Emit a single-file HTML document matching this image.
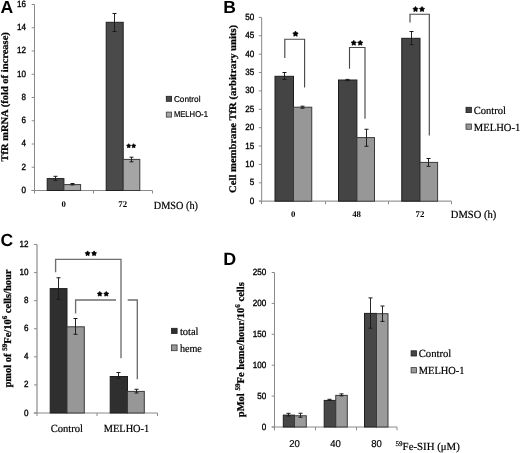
<!DOCTYPE html>
<html><head><meta charset="utf-8"><style>
html,body{margin:0;padding:0;background:#fff;}
svg{display:block;will-change:transform;filter:blur(0.3px);}
text{fill:#000;text-rendering:geometricPrecision;}
</style></head><body>
<svg width="520" height="453" viewBox="0 0 520 453">
<rect width="520" height="453" fill="#fff"/>
<text x="0.4" y="13.1" font-family="'Liberation Sans', sans-serif" font-size="17.6" font-weight="bold" text-anchor="start">A</text>
<line x1="34.5" y1="4.5" x2="34.5" y2="190.5" stroke="#8a8a8a" stroke-width="1"/>
<line x1="31.7" y1="190.5" x2="34.5" y2="190.5" stroke="#8a8a8a" stroke-width="1"/>
<text x="26.0" y="192.95" font-family="'Liberation Sans', sans-serif" font-size="9" font-weight="normal" text-anchor="end" textLength="4.5" lengthAdjust="spacingAndGlyphs" stroke="#000" stroke-width="0.35">0</text>
<line x1="31.7" y1="167.25" x2="34.5" y2="167.25" stroke="#8a8a8a" stroke-width="1"/>
<text x="26.0" y="169.7" font-family="'Liberation Sans', sans-serif" font-size="9" font-weight="normal" text-anchor="end" textLength="4.5" lengthAdjust="spacingAndGlyphs" stroke="#000" stroke-width="0.35">2</text>
<line x1="31.7" y1="144.0" x2="34.5" y2="144.0" stroke="#8a8a8a" stroke-width="1"/>
<text x="26.0" y="146.45" font-family="'Liberation Sans', sans-serif" font-size="9" font-weight="normal" text-anchor="end" textLength="4.5" lengthAdjust="spacingAndGlyphs" stroke="#000" stroke-width="0.35">4</text>
<line x1="31.7" y1="120.75" x2="34.5" y2="120.75" stroke="#8a8a8a" stroke-width="1"/>
<text x="26.0" y="123.2" font-family="'Liberation Sans', sans-serif" font-size="9" font-weight="normal" text-anchor="end" textLength="4.5" lengthAdjust="spacingAndGlyphs" stroke="#000" stroke-width="0.35">6</text>
<line x1="31.7" y1="97.5" x2="34.5" y2="97.5" stroke="#8a8a8a" stroke-width="1"/>
<text x="26.0" y="99.95" font-family="'Liberation Sans', sans-serif" font-size="9" font-weight="normal" text-anchor="end" textLength="4.5" lengthAdjust="spacingAndGlyphs" stroke="#000" stroke-width="0.35">8</text>
<line x1="31.7" y1="74.25" x2="34.5" y2="74.25" stroke="#8a8a8a" stroke-width="1"/>
<text x="26.0" y="76.7" font-family="'Liberation Sans', sans-serif" font-size="9" font-weight="normal" text-anchor="end" textLength="9.0" lengthAdjust="spacingAndGlyphs" stroke="#000" stroke-width="0.35">10</text>
<line x1="31.7" y1="51.0" x2="34.5" y2="51.0" stroke="#8a8a8a" stroke-width="1"/>
<text x="26.0" y="53.45" font-family="'Liberation Sans', sans-serif" font-size="9" font-weight="normal" text-anchor="end" textLength="9.0" lengthAdjust="spacingAndGlyphs" stroke="#000" stroke-width="0.35">12</text>
<line x1="31.7" y1="27.75" x2="34.5" y2="27.75" stroke="#8a8a8a" stroke-width="1"/>
<text x="26.0" y="30.2" font-family="'Liberation Sans', sans-serif" font-size="9" font-weight="normal" text-anchor="end" textLength="9.0" lengthAdjust="spacingAndGlyphs" stroke="#000" stroke-width="0.35">14</text>
<line x1="31.7" y1="4.5" x2="34.5" y2="4.5" stroke="#8a8a8a" stroke-width="1"/>
<text x="26.0" y="6.95" font-family="'Liberation Sans', sans-serif" font-size="9" font-weight="normal" text-anchor="end" textLength="9.0" lengthAdjust="spacingAndGlyphs" stroke="#000" stroke-width="0.35">16</text>
<line x1="31.5" y1="190.5" x2="152.5" y2="190.5" stroke="#8a8a8a" stroke-width="1"/>
<line x1="34.5" y1="190.5" x2="34.5" y2="193.5" stroke="#8a8a8a" stroke-width="1"/>
<line x1="93.5" y1="190.5" x2="93.5" y2="193.5" stroke="#8a8a8a" stroke-width="1"/>
<line x1="152.5" y1="190.5" x2="152.5" y2="193.5" stroke="#8a8a8a" stroke-width="1"/>
<rect x="47.2" y="178.6" width="16.699999999999996" height="11.900000000000006" fill="#4a4a4a" stroke="#1e1e1e" stroke-width="1"/>
<rect x="63.9" y="184.6" width="16.699999999999996" height="5.900000000000006" fill="#a5a5a5" stroke="#3a3a3a" stroke-width="1"/>
<rect x="106.2" y="22.3" width="17.0" height="168.2" fill="#4a4a4a" stroke="#1e1e1e" stroke-width="1"/>
<rect x="123.2" y="159.4" width="16.60000000000001" height="31.099999999999994" fill="#a5a5a5" stroke="#3a3a3a" stroke-width="1"/>
<line x1="55.5" y1="176.3" x2="55.5" y2="180.4" stroke="#1a1a1a" stroke-width="0.95"/>
<line x1="53.5" y1="176.3" x2="57.5" y2="176.3" stroke="#1a1a1a" stroke-width="1"/>
<line x1="53.5" y1="180.4" x2="57.5" y2="180.4" stroke="#1a1a1a" stroke-width="1"/>
<line x1="72.5" y1="183.5" x2="72.5" y2="184.9" stroke="#1a1a1a" stroke-width="0.95"/>
<line x1="70.5" y1="183.5" x2="74.5" y2="183.5" stroke="#1a1a1a" stroke-width="1"/>
<line x1="70.5" y1="184.9" x2="74.5" y2="184.9" stroke="#1a1a1a" stroke-width="1"/>
<line x1="114.5" y1="13.5" x2="114.5" y2="31.5" stroke="#1a1a1a" stroke-width="0.95"/>
<line x1="112.5" y1="13.5" x2="116.5" y2="13.5" stroke="#1a1a1a" stroke-width="1"/>
<line x1="112.5" y1="31.5" x2="116.5" y2="31.5" stroke="#1a1a1a" stroke-width="1"/>
<line x1="131.5" y1="157.2" x2="131.5" y2="161.8" stroke="#1a1a1a" stroke-width="0.95"/>
<line x1="129.5" y1="157.2" x2="133.5" y2="157.2" stroke="#1a1a1a" stroke-width="1"/>
<line x1="129.5" y1="161.8" x2="133.5" y2="161.8" stroke="#1a1a1a" stroke-width="1"/>
<polygon points="128.70,143.70 129.43,144.89 130.79,145.22 129.88,146.28 129.99,147.68 128.70,147.15 127.41,147.68 127.52,146.28 126.61,145.22 127.97,144.89" fill="#000" stroke="#000" stroke-width="0.7" stroke-linejoin="round"/>
<polygon points="133.70,143.70 134.43,144.89 135.79,145.22 134.88,146.28 134.99,147.68 133.70,147.15 132.41,147.68 132.52,146.28 131.61,145.22 132.97,144.89" fill="#000" stroke="#000" stroke-width="0.7" stroke-linejoin="round"/>
<rect x="166.3" y="96.3" width="5.299999999999983" height="5.0" fill="#4a4a4a" stroke="#1e1e1e" stroke-width="0.8"/>
<rect x="166.3" y="112.1" width="5.299999999999983" height="5.0" fill="#a5a5a5" stroke="#3a3a3a" stroke-width="0.8"/>
<text x="173.9" y="101.5" font-family="'Liberation Sans', sans-serif" font-size="8.5" font-weight="normal" text-anchor="start" textLength="26.6" lengthAdjust="spacingAndGlyphs" stroke="#000" stroke-width="0.2">Control</text>
<text x="173.9" y="117.2" font-family="'Liberation Sans', sans-serif" font-size="8.5" font-weight="normal" text-anchor="start" textLength="34" lengthAdjust="spacingAndGlyphs" stroke="#000" stroke-width="0.2">MELHO-1</text>
<text x="0" y="0" transform="translate(8.0,96.9) rotate(-90)" font-family="'Liberation Serif', serif" font-size="10" font-weight="bold" text-anchor="middle" textLength="129.4" lengthAdjust="spacingAndGlyphs" stroke="#000" stroke-width="0.25">TfR mRNA (fold of increase)</text>
<text x="63.75" y="206.9" font-family="'Liberation Serif', serif" font-size="8.8" font-weight="bold" text-anchor="middle">0</text>
<text x="122.75" y="206.9" font-family="'Liberation Serif', serif" font-size="8.8" font-weight="bold" text-anchor="middle">72</text>
<text x="153.8" y="208.65" font-family="'Liberation Serif', serif" font-size="10.9" font-weight="normal" text-anchor="start" textLength="44.2" lengthAdjust="spacingAndGlyphs" stroke="#000" stroke-width="0.2">DMSO (h)</text>
<text x="223.2" y="13.1" font-family="'Liberation Sans', sans-serif" font-size="17.5" font-weight="bold" text-anchor="start">B</text>
<line x1="261.6" y1="17.4" x2="261.6" y2="201.2" stroke="#9a9a9a" stroke-width="1.2"/>
<line x1="258.8" y1="201.2" x2="261.6" y2="201.2" stroke="#8a8a8a" stroke-width="1"/>
<text x="254.3" y="203.64999999999998" font-family="'Liberation Sans', sans-serif" font-size="9" font-weight="normal" text-anchor="end" textLength="4.5" lengthAdjust="spacingAndGlyphs" stroke="#000" stroke-width="0.35">0</text>
<line x1="258.8" y1="182.82" x2="261.6" y2="182.82" stroke="#8a8a8a" stroke-width="1"/>
<text x="254.3" y="185.26999999999998" font-family="'Liberation Sans', sans-serif" font-size="9" font-weight="normal" text-anchor="end" textLength="4.5" lengthAdjust="spacingAndGlyphs" stroke="#000" stroke-width="0.35">5</text>
<line x1="258.8" y1="164.44" x2="261.6" y2="164.44" stroke="#8a8a8a" stroke-width="1"/>
<text x="254.3" y="166.89" font-family="'Liberation Sans', sans-serif" font-size="9" font-weight="normal" text-anchor="end" textLength="9.0" lengthAdjust="spacingAndGlyphs" stroke="#000" stroke-width="0.35">10</text>
<line x1="258.8" y1="146.06" x2="261.6" y2="146.06" stroke="#8a8a8a" stroke-width="1"/>
<text x="254.3" y="148.51" font-family="'Liberation Sans', sans-serif" font-size="9" font-weight="normal" text-anchor="end" textLength="9.0" lengthAdjust="spacingAndGlyphs" stroke="#000" stroke-width="0.35">15</text>
<line x1="258.8" y1="127.67999999999999" x2="261.6" y2="127.67999999999999" stroke="#8a8a8a" stroke-width="1"/>
<text x="254.3" y="130.13" font-family="'Liberation Sans', sans-serif" font-size="9" font-weight="normal" text-anchor="end" textLength="9.0" lengthAdjust="spacingAndGlyphs" stroke="#000" stroke-width="0.35">20</text>
<line x1="258.8" y1="109.3" x2="261.6" y2="109.3" stroke="#8a8a8a" stroke-width="1"/>
<text x="254.3" y="111.75" font-family="'Liberation Sans', sans-serif" font-size="9" font-weight="normal" text-anchor="end" textLength="9.0" lengthAdjust="spacingAndGlyphs" stroke="#000" stroke-width="0.35">25</text>
<line x1="258.8" y1="90.92" x2="261.6" y2="90.92" stroke="#8a8a8a" stroke-width="1"/>
<text x="254.3" y="93.37" font-family="'Liberation Sans', sans-serif" font-size="9" font-weight="normal" text-anchor="end" textLength="9.0" lengthAdjust="spacingAndGlyphs" stroke="#000" stroke-width="0.35">30</text>
<line x1="258.8" y1="72.53999999999999" x2="261.6" y2="72.53999999999999" stroke="#8a8a8a" stroke-width="1"/>
<text x="254.3" y="74.99" font-family="'Liberation Sans', sans-serif" font-size="9" font-weight="normal" text-anchor="end" textLength="9.0" lengthAdjust="spacingAndGlyphs" stroke="#000" stroke-width="0.35">35</text>
<line x1="258.8" y1="54.16" x2="261.6" y2="54.16" stroke="#8a8a8a" stroke-width="1"/>
<text x="254.3" y="56.61" font-family="'Liberation Sans', sans-serif" font-size="9" font-weight="normal" text-anchor="end" textLength="9.0" lengthAdjust="spacingAndGlyphs" stroke="#000" stroke-width="0.35">40</text>
<line x1="258.8" y1="35.78" x2="261.6" y2="35.78" stroke="#8a8a8a" stroke-width="1"/>
<text x="254.3" y="38.230000000000004" font-family="'Liberation Sans', sans-serif" font-size="9" font-weight="normal" text-anchor="end" textLength="9.0" lengthAdjust="spacingAndGlyphs" stroke="#000" stroke-width="0.35">45</text>
<line x1="258.8" y1="17.400000000000006" x2="261.6" y2="17.400000000000006" stroke="#8a8a8a" stroke-width="1"/>
<text x="254.3" y="19.850000000000005" font-family="'Liberation Sans', sans-serif" font-size="9" font-weight="normal" text-anchor="end" textLength="9.0" lengthAdjust="spacingAndGlyphs" stroke="#000" stroke-width="0.35">50</text>
<line x1="259.0" y1="201.2" x2="451.5" y2="201.2" stroke="#9a9a9a" stroke-width="1.2"/>
<line x1="261.5" y1="201.2" x2="261.5" y2="204.2" stroke="#8a8a8a" stroke-width="1"/>
<line x1="325.5" y1="201.2" x2="325.5" y2="204.2" stroke="#8a8a8a" stroke-width="1"/>
<line x1="388.5" y1="201.2" x2="388.5" y2="204.2" stroke="#8a8a8a" stroke-width="1"/>
<line x1="451.5" y1="201.2" x2="451.5" y2="204.2" stroke="#8a8a8a" stroke-width="1"/>
<rect x="275" y="76.3" width="18.5" height="124.89999999999999" fill="#444444" stroke="#1e1e1e" stroke-width="1"/>
<rect x="293.5" y="107.2" width="18.25" height="93.99999999999999" fill="#979797" stroke="#3a3a3a" stroke-width="1"/>
<rect x="338.5" y="80" width="18.399999999999977" height="121.19999999999999" fill="#444444" stroke="#1e1e1e" stroke-width="1"/>
<rect x="356.9" y="137.6" width="17.600000000000023" height="63.599999999999994" fill="#979797" stroke="#3a3a3a" stroke-width="1"/>
<rect x="401.75" y="38.3" width="18.25" height="162.89999999999998" fill="#444444" stroke="#1e1e1e" stroke-width="1"/>
<rect x="420" y="162.4" width="17.600000000000023" height="38.79999999999998" fill="#979797" stroke="#3a3a3a" stroke-width="1"/>
<line x1="284.5" y1="72.5" x2="284.5" y2="79.5" stroke="#1a1a1a" stroke-width="0.95"/>
<line x1="282.5" y1="72.5" x2="286.5" y2="72.5" stroke="#1a1a1a" stroke-width="1"/>
<line x1="282.5" y1="79.5" x2="286.5" y2="79.5" stroke="#1a1a1a" stroke-width="1"/>
<line x1="302.5" y1="106.2" x2="302.5" y2="108.2" stroke="#1a1a1a" stroke-width="0.95"/>
<line x1="300.5" y1="106.2" x2="304.5" y2="106.2" stroke="#1a1a1a" stroke-width="1"/>
<line x1="300.5" y1="108.2" x2="304.5" y2="108.2" stroke="#1a1a1a" stroke-width="1"/>
<line x1="347.5" y1="79.4" x2="347.5" y2="80.6" stroke="#1a1a1a" stroke-width="0.95"/>
<line x1="345.5" y1="79.4" x2="349.5" y2="79.4" stroke="#1a1a1a" stroke-width="1"/>
<line x1="345.5" y1="80.6" x2="349.5" y2="80.6" stroke="#1a1a1a" stroke-width="1"/>
<line x1="366.5" y1="129.25" x2="366.5" y2="146.25" stroke="#1a1a1a" stroke-width="0.95"/>
<line x1="364.5" y1="129.25" x2="368.5" y2="129.25" stroke="#1a1a1a" stroke-width="1"/>
<line x1="364.5" y1="146.25" x2="368.5" y2="146.25" stroke="#1a1a1a" stroke-width="1"/>
<line x1="411.5" y1="31.5" x2="411.5" y2="44.7" stroke="#1a1a1a" stroke-width="0.95"/>
<line x1="409.5" y1="31.5" x2="413.5" y2="31.5" stroke="#1a1a1a" stroke-width="1"/>
<line x1="409.5" y1="44.7" x2="413.5" y2="44.7" stroke="#1a1a1a" stroke-width="1"/>
<line x1="428.5" y1="158.5" x2="428.5" y2="166.3" stroke="#1a1a1a" stroke-width="0.95"/>
<line x1="426.5" y1="158.5" x2="430.5" y2="158.5" stroke="#1a1a1a" stroke-width="1"/>
<line x1="426.5" y1="166.3" x2="430.5" y2="166.3" stroke="#1a1a1a" stroke-width="1"/>
<polyline points="284.8,58 284.8,39.2 304.6,39.2 304.6,87.5" fill="none" stroke="#4a4a4a" stroke-width="1.15"/>
<polyline points="349.5,68.75 349.5,47.5 365,47.5 365,118.75" fill="none" stroke="#4a4a4a" stroke-width="1.15"/>
<polyline points="410,22.5 410,14.25 429.3,14.25 429.3,135.4" fill="none" stroke="#4a4a4a" stroke-width="1.15"/>
<polygon points="295.50,31.05 296.43,32.61 298.21,33.02 297.01,34.39 297.18,36.21 295.50,35.49 293.82,36.21 293.99,34.39 292.79,33.02 294.57,32.61" fill="#000" stroke="#000" stroke-width="0.7" stroke-linejoin="round"/>
<polygon points="353.75,40.25 354.65,41.76 356.37,42.15 355.21,43.47 355.37,45.22 353.75,44.54 352.13,45.22 352.29,43.47 351.13,42.15 352.85,41.76" fill="#000" stroke="#000" stroke-width="0.7" stroke-linejoin="round"/>
<polygon points="360.25,40.25 361.15,41.76 362.87,42.15 361.71,43.47 361.87,45.22 360.25,44.54 358.63,45.22 358.79,43.47 357.63,42.15 359.35,41.76" fill="#000" stroke="#000" stroke-width="0.7" stroke-linejoin="round"/>
<polygon points="415.50,6.50 416.40,8.01 418.12,8.40 416.96,9.72 417.12,11.47 415.50,10.79 413.88,11.47 414.04,9.72 412.88,8.40 414.60,8.01" fill="#000" stroke="#000" stroke-width="0.7" stroke-linejoin="round"/>
<polygon points="422.00,6.50 422.90,8.01 424.62,8.40 423.46,9.72 423.62,11.47 422.00,10.79 420.38,11.47 420.54,9.72 419.38,8.40 421.10,8.01" fill="#000" stroke="#000" stroke-width="0.7" stroke-linejoin="round"/>
<rect x="466" y="107.3" width="5.399999999999977" height="5.299999999999997" fill="#444444" stroke="#1e1e1e" stroke-width="0.8"/>
<rect x="466" y="124" width="5.399999999999977" height="5.300000000000011" fill="#979797" stroke="#3a3a3a" stroke-width="0.8"/>
<text x="473.8" y="113.8" font-family="'Liberation Serif', serif" font-size="10.9" font-weight="normal" text-anchor="start" textLength="32.2" lengthAdjust="spacingAndGlyphs" stroke="#000" stroke-width="0.2">Control</text>
<text x="473.8" y="130.9" font-family="'Liberation Serif', serif" font-size="10.9" font-weight="normal" text-anchor="start" textLength="46.5" lengthAdjust="spacingAndGlyphs" stroke="#000" stroke-width="0.2">MELHO-1</text>
<text x="0" y="0" transform="translate(235.6,108.9) rotate(-90)" font-family="'Liberation Serif', serif" font-size="10" font-weight="bold" text-anchor="middle" textLength="168" lengthAdjust="spacingAndGlyphs" stroke="#000" stroke-width="0.25">Cell membrane TfR (arbitrary units)</text>
<text x="293.1" y="216.8" font-family="'Liberation Serif', serif" font-size="8.8" font-weight="bold" text-anchor="middle">0</text>
<text x="356.6" y="216.8" font-family="'Liberation Serif', serif" font-size="8.8" font-weight="bold" text-anchor="middle">48</text>
<text x="420" y="216.8" font-family="'Liberation Serif', serif" font-size="8.8" font-weight="bold" text-anchor="middle">72</text>
<text x="450.75" y="217.5" font-family="'Liberation Serif', serif" font-size="10.9" font-weight="normal" text-anchor="start" textLength="45.5" lengthAdjust="spacingAndGlyphs" stroke="#000" stroke-width="0.2">DMSO (h)</text>
<text x="0.4" y="246.2" font-family="'Liberation Sans', sans-serif" font-size="17.5" font-weight="bold" text-anchor="start">C</text>
<line x1="37" y1="244.5" x2="37" y2="413" stroke="#8a8a8a" stroke-width="1.2"/>
<line x1="34" y1="413.0" x2="37" y2="413.0" stroke="#8a8a8a" stroke-width="1"/>
<text x="28.6" y="415.55" font-family="'Liberation Sans', sans-serif" font-size="9" font-weight="normal" text-anchor="end" textLength="4.5" lengthAdjust="spacingAndGlyphs" stroke="#000" stroke-width="0.35">0</text>
<line x1="34" y1="384.9166666666667" x2="37" y2="384.9166666666667" stroke="#8a8a8a" stroke-width="1"/>
<text x="28.6" y="387.4666666666667" font-family="'Liberation Sans', sans-serif" font-size="9" font-weight="normal" text-anchor="end" textLength="4.5" lengthAdjust="spacingAndGlyphs" stroke="#000" stroke-width="0.35">2</text>
<line x1="34" y1="356.8333333333333" x2="37" y2="356.8333333333333" stroke="#8a8a8a" stroke-width="1"/>
<text x="28.6" y="359.3833333333333" font-family="'Liberation Sans', sans-serif" font-size="9" font-weight="normal" text-anchor="end" textLength="4.5" lengthAdjust="spacingAndGlyphs" stroke="#000" stroke-width="0.35">4</text>
<line x1="34" y1="328.75" x2="37" y2="328.75" stroke="#8a8a8a" stroke-width="1"/>
<text x="28.6" y="331.3" font-family="'Liberation Sans', sans-serif" font-size="9" font-weight="normal" text-anchor="end" textLength="4.5" lengthAdjust="spacingAndGlyphs" stroke="#000" stroke-width="0.35">6</text>
<line x1="34" y1="300.6666666666667" x2="37" y2="300.6666666666667" stroke="#8a8a8a" stroke-width="1"/>
<text x="28.6" y="303.2166666666667" font-family="'Liberation Sans', sans-serif" font-size="9" font-weight="normal" text-anchor="end" textLength="4.5" lengthAdjust="spacingAndGlyphs" stroke="#000" stroke-width="0.35">8</text>
<line x1="34" y1="272.58333333333337" x2="37" y2="272.58333333333337" stroke="#8a8a8a" stroke-width="1"/>
<text x="28.6" y="275.1333333333334" font-family="'Liberation Sans', sans-serif" font-size="9" font-weight="normal" text-anchor="end" textLength="9.0" lengthAdjust="spacingAndGlyphs" stroke="#000" stroke-width="0.35">10</text>
<line x1="34" y1="244.5" x2="37" y2="244.5" stroke="#8a8a8a" stroke-width="1"/>
<text x="28.6" y="247.05" font-family="'Liberation Sans', sans-serif" font-size="9" font-weight="normal" text-anchor="end" textLength="9.0" lengthAdjust="spacingAndGlyphs" stroke="#000" stroke-width="0.35">12</text>
<line x1="33.8" y1="413" x2="157.5" y2="413" stroke="#8a8a8a" stroke-width="1.2"/>
<line x1="37" y1="413" x2="37" y2="416" stroke="#8a8a8a" stroke-width="1"/>
<line x1="97" y1="413" x2="97" y2="416" stroke="#8a8a8a" stroke-width="1"/>
<line x1="157.5" y1="413" x2="157.5" y2="416" stroke="#8a8a8a" stroke-width="1"/>
<rect x="50.2" y="288.6" width="16.799999999999997" height="124.39999999999998" fill="#2f2f2f" stroke="#1e1e1e" stroke-width="1"/>
<rect x="67" y="326.8" width="17.299999999999997" height="86.19999999999999" fill="#979797" stroke="#3a3a3a" stroke-width="1"/>
<rect x="110.2" y="376.5" width="17.299999999999997" height="36.5" fill="#2f2f2f" stroke="#1e1e1e" stroke-width="1"/>
<rect x="127.5" y="391.4" width="16.80000000000001" height="21.600000000000023" fill="#979797" stroke="#3a3a3a" stroke-width="1"/>
<line x1="58.5" y1="277.75" x2="58.5" y2="299.25" stroke="#1a1a1a" stroke-width="0.95"/>
<line x1="56.5" y1="277.75" x2="60.5" y2="277.75" stroke="#1a1a1a" stroke-width="1"/>
<line x1="56.5" y1="299.25" x2="60.5" y2="299.25" stroke="#1a1a1a" stroke-width="1"/>
<line x1="75.5" y1="318.5" x2="75.5" y2="334.25" stroke="#1a1a1a" stroke-width="0.95"/>
<line x1="73.5" y1="318.5" x2="77.5" y2="318.5" stroke="#1a1a1a" stroke-width="1"/>
<line x1="73.5" y1="334.25" x2="77.5" y2="334.25" stroke="#1a1a1a" stroke-width="1"/>
<line x1="118.5" y1="372.5" x2="118.5" y2="378.25" stroke="#1a1a1a" stroke-width="0.95"/>
<line x1="116.5" y1="372.5" x2="120.5" y2="372.5" stroke="#1a1a1a" stroke-width="1"/>
<line x1="116.5" y1="378.25" x2="120.5" y2="378.25" stroke="#1a1a1a" stroke-width="1"/>
<line x1="136.5" y1="389.25" x2="136.5" y2="393" stroke="#1a1a1a" stroke-width="0.95"/>
<line x1="134.5" y1="389.25" x2="138.5" y2="389.25" stroke="#1a1a1a" stroke-width="1"/>
<line x1="134.5" y1="393" x2="138.5" y2="393" stroke="#1a1a1a" stroke-width="1"/>
<polyline points="55.6,272.25 55.6,259.4 121.0,259.4 121.0,358.25" fill="none" stroke="#6e6e6e" stroke-width="1.35"/>
<polyline points="75.6,313.5 75.6,300.0 116,300.0" fill="none" stroke="#6e6e6e" stroke-width="1.35"/>
<polyline points="127.7,300.0 137.3,300.0 137.3,379.25" fill="none" stroke="#6e6e6e" stroke-width="1.35"/>
<polygon points="87.60,250.90 88.46,252.32 90.07,252.70 88.99,253.95 89.13,255.60 87.60,254.96 86.07,255.60 86.21,253.95 85.13,252.70 86.74,252.32" fill="#000" stroke="#000" stroke-width="0.7" stroke-linejoin="round"/>
<polygon points="94.10,250.90 94.96,252.32 96.57,252.70 95.49,253.95 95.63,255.60 94.10,254.96 92.57,255.60 92.71,253.95 91.63,252.70 93.24,252.32" fill="#000" stroke="#000" stroke-width="0.7" stroke-linejoin="round"/>
<polygon points="99.75,291.40 100.61,292.82 102.22,293.20 101.14,294.45 101.28,296.10 99.75,295.46 98.22,296.10 98.36,294.45 97.28,293.20 98.89,292.82" fill="#000" stroke="#000" stroke-width="0.7" stroke-linejoin="round"/>
<polygon points="106.25,291.40 107.11,292.82 108.72,293.20 107.64,294.45 107.78,296.10 106.25,295.46 104.72,296.10 104.86,294.45 103.78,293.20 105.39,292.82" fill="#000" stroke="#000" stroke-width="0.7" stroke-linejoin="round"/>
<rect x="171.4" y="328.3" width="5.699999999999989" height="5.199999999999989" fill="#2f2f2f" stroke="#1e1e1e" stroke-width="0.8"/>
<rect x="171.4" y="344.9" width="5.699999999999989" height="5.800000000000011" fill="#979797" stroke="#3a3a3a" stroke-width="0.8"/>
<text x="179.9" y="334.6" font-family="'Liberation Serif', serif" font-size="10.9" font-weight="normal" text-anchor="start" textLength="18.6" lengthAdjust="spacingAndGlyphs" stroke="#000" stroke-width="0.2">total</text>
<text x="179.9" y="351.5" font-family="'Liberation Serif', serif" font-size="10.9" font-weight="normal" text-anchor="start" textLength="22" lengthAdjust="spacingAndGlyphs" stroke="#000" stroke-width="0.2">heme</text>
<text x="0" y="0" transform="translate(11.0,328.5) rotate(-90)" font-family="'Liberation Serif', serif" font-size="10.4" font-weight="bold" text-anchor="middle" textLength="118" lengthAdjust="spacingAndGlyphs" stroke="#000" stroke-width="0.25">pmol of <tspan font-size="7" dy="-4.3">59</tspan><tspan dy="4.3">Fe/10</tspan><tspan font-size="7" dy="-4.3">6</tspan><tspan dy="4.3"> cells/hour</tspan></text>
<text x="66.9" y="431.8" font-family="'Liberation Serif', serif" font-size="10.9" font-weight="normal" text-anchor="middle" textLength="32.3" lengthAdjust="spacingAndGlyphs" stroke="#000" stroke-width="0.2">Control</text>
<text x="126.5" y="432.3" font-family="'Liberation Serif', serif" font-size="10.9" font-weight="normal" text-anchor="middle" textLength="45.5" lengthAdjust="spacingAndGlyphs" stroke="#000" stroke-width="0.2">MELHO-1</text>
<text x="223.3" y="265.1" font-family="'Liberation Sans', sans-serif" font-size="17.9" font-weight="bold" text-anchor="start">D</text>
<line x1="274.5" y1="272.5" x2="274.5" y2="427" stroke="#8a8a8a" stroke-width="1"/>
<line x1="271.7" y1="427.0" x2="274.5" y2="427.0" stroke="#8a8a8a" stroke-width="1"/>
<text x="266.3" y="429.55" font-family="'Liberation Sans', sans-serif" font-size="9" font-weight="normal" text-anchor="end" textLength="4.5" lengthAdjust="spacingAndGlyphs" stroke="#000" stroke-width="0.35">0</text>
<line x1="271.7" y1="396.1" x2="274.5" y2="396.1" stroke="#8a8a8a" stroke-width="1"/>
<text x="266.3" y="398.65000000000003" font-family="'Liberation Sans', sans-serif" font-size="9" font-weight="normal" text-anchor="end" textLength="9.0" lengthAdjust="spacingAndGlyphs" stroke="#000" stroke-width="0.35">50</text>
<line x1="271.7" y1="365.2" x2="274.5" y2="365.2" stroke="#8a8a8a" stroke-width="1"/>
<text x="266.3" y="367.75" font-family="'Liberation Sans', sans-serif" font-size="9" font-weight="normal" text-anchor="end" textLength="13.5" lengthAdjust="spacingAndGlyphs" stroke="#000" stroke-width="0.35">100</text>
<line x1="271.7" y1="334.3" x2="274.5" y2="334.3" stroke="#8a8a8a" stroke-width="1"/>
<text x="266.3" y="336.85" font-family="'Liberation Sans', sans-serif" font-size="9" font-weight="normal" text-anchor="end" textLength="13.5" lengthAdjust="spacingAndGlyphs" stroke="#000" stroke-width="0.35">150</text>
<line x1="271.7" y1="303.4" x2="274.5" y2="303.4" stroke="#8a8a8a" stroke-width="1"/>
<text x="266.3" y="305.95" font-family="'Liberation Sans', sans-serif" font-size="9" font-weight="normal" text-anchor="end" textLength="13.5" lengthAdjust="spacingAndGlyphs" stroke="#000" stroke-width="0.35">200</text>
<line x1="271.7" y1="272.5" x2="274.5" y2="272.5" stroke="#8a8a8a" stroke-width="1"/>
<text x="266.3" y="275.05" font-family="'Liberation Sans', sans-serif" font-size="9" font-weight="normal" text-anchor="end" textLength="13.5" lengthAdjust="spacingAndGlyphs" stroke="#000" stroke-width="0.35">250</text>
<line x1="271.7" y1="427" x2="397" y2="427" stroke="#8a8a8a" stroke-width="1"/>
<line x1="274.5" y1="427" x2="274.5" y2="430.3" stroke="#8a8a8a" stroke-width="1"/>
<line x1="315.5" y1="427" x2="315.5" y2="430.3" stroke="#8a8a8a" stroke-width="1"/>
<line x1="356.5" y1="427" x2="356.5" y2="430.3" stroke="#8a8a8a" stroke-width="1"/>
<line x1="397" y1="427" x2="397" y2="430.3" stroke="#8a8a8a" stroke-width="1"/>
<rect x="283.3" y="415.14" width="11.199999999999989" height="11.860000000000014" fill="#474747" stroke="#1e1e1e" stroke-width="1"/>
<rect x="294.5" y="415.758" width="11.800000000000011" height="11.242000000000019" fill="#9a9a9a" stroke="#3a3a3a" stroke-width="1"/>
<rect x="324.2" y="400.408" width="11.550000000000011" height="26.591999999999985" fill="#474747" stroke="#1e1e1e" stroke-width="1"/>
<rect x="335.75" y="395.364" width="11.550000000000011" height="31.636000000000024" fill="#9a9a9a" stroke="#3a3a3a" stroke-width="1"/>
<rect x="364.5" y="313.4" width="12.0" height="113.60000000000002" fill="#474747" stroke="#1e1e1e" stroke-width="1"/>
<rect x="376.5" y="313.7" width="11.5" height="113.30000000000001" fill="#9a9a9a" stroke="#3a3a3a" stroke-width="1"/>
<line x1="288.5" y1="413.34" x2="288.5" y2="415.94" stroke="#1a1a1a" stroke-width="0.95"/>
<line x1="286.5" y1="413.34" x2="290.5" y2="413.34" stroke="#1a1a1a" stroke-width="1"/>
<line x1="286.5" y1="415.94" x2="290.5" y2="415.94" stroke="#1a1a1a" stroke-width="1"/>
<line x1="300.5" y1="413.258" x2="300.5" y2="417.258" stroke="#1a1a1a" stroke-width="0.95"/>
<line x1="298.5" y1="413.258" x2="302.5" y2="413.258" stroke="#1a1a1a" stroke-width="1"/>
<line x1="298.5" y1="417.258" x2="302.5" y2="417.258" stroke="#1a1a1a" stroke-width="1"/>
<line x1="329.5" y1="399.308" x2="329.5" y2="400.308" stroke="#1a1a1a" stroke-width="0.95"/>
<line x1="327.5" y1="399.308" x2="331.5" y2="399.308" stroke="#1a1a1a" stroke-width="1"/>
<line x1="327.5" y1="400.308" x2="331.5" y2="400.308" stroke="#1a1a1a" stroke-width="1"/>
<line x1="341.5" y1="393.864" x2="341.5" y2="395.864" stroke="#1a1a1a" stroke-width="0.95"/>
<line x1="339.5" y1="393.864" x2="343.5" y2="393.864" stroke="#1a1a1a" stroke-width="1"/>
<line x1="339.5" y1="395.864" x2="343.5" y2="395.864" stroke="#1a1a1a" stroke-width="1"/>
<line x1="370.5" y1="297.9" x2="370.5" y2="328.2" stroke="#1a1a1a" stroke-width="0.95"/>
<line x1="368.5" y1="297.9" x2="372.5" y2="297.9" stroke="#1a1a1a" stroke-width="1"/>
<line x1="368.5" y1="328.2" x2="372.5" y2="328.2" stroke="#1a1a1a" stroke-width="1"/>
<line x1="382.5" y1="306" x2="382.5" y2="321.4" stroke="#1a1a1a" stroke-width="0.95"/>
<line x1="380.5" y1="306" x2="384.5" y2="306" stroke="#1a1a1a" stroke-width="1"/>
<line x1="380.5" y1="321.4" x2="384.5" y2="321.4" stroke="#1a1a1a" stroke-width="1"/>
<rect x="411.1" y="350.8" width="5.399999999999977" height="5.199999999999989" fill="#474747" stroke="#1e1e1e" stroke-width="0.8"/>
<rect x="411.1" y="367.6" width="5.399999999999977" height="5.2999999999999545" fill="#9a9a9a" stroke="#3a3a3a" stroke-width="0.8"/>
<text x="418.75" y="357" font-family="'Liberation Serif', serif" font-size="10.9" font-weight="normal" text-anchor="start" textLength="32.5" lengthAdjust="spacingAndGlyphs" stroke="#000" stroke-width="0.2">Control</text>
<text x="418.75" y="374.1" font-family="'Liberation Serif', serif" font-size="10.9" font-weight="normal" text-anchor="start" textLength="45.75" lengthAdjust="spacingAndGlyphs" stroke="#000" stroke-width="0.2">MELHO-1</text>
<text x="0" y="0" transform="translate(243.8,349.7) rotate(-90)" font-family="'Liberation Serif', serif" font-size="10.4" font-weight="bold" text-anchor="middle" textLength="135" lengthAdjust="spacingAndGlyphs" stroke="#000" stroke-width="0.25">pMol <tspan font-size="7" dy="-4.3">59</tspan><tspan dy="4.3">Fe heme/hour/10</tspan><tspan font-size="7" dy="-4.3">6</tspan><tspan dy="4.3"> cells</tspan></text>
<text x="294.5" y="447.2" font-family="'Liberation Sans', sans-serif" font-size="10" font-weight="normal" text-anchor="middle" textLength="10.6" lengthAdjust="spacingAndGlyphs" stroke="#000" stroke-width="0.2">20</text>
<text x="335.5" y="447.2" font-family="'Liberation Sans', sans-serif" font-size="10" font-weight="normal" text-anchor="middle" textLength="10.6" lengthAdjust="spacingAndGlyphs" stroke="#000" stroke-width="0.2">40</text>
<text x="376.5" y="447.2" font-family="'Liberation Sans', sans-serif" font-size="10" font-weight="normal" text-anchor="middle" textLength="10.6" lengthAdjust="spacingAndGlyphs" stroke="#000" stroke-width="0.2">80</text>
<text x="395.6" y="450.1" font-family="'Liberation Serif', serif" font-size="10.8" font-weight="normal" text-anchor="start" textLength="64.2" lengthAdjust="spacingAndGlyphs" stroke="#000" stroke-width="0.2"><tspan font-size="7" dy="-4">59</tspan><tspan dy="4">Fe-SIH (μM)</tspan></text>
</svg>
</body></html>
